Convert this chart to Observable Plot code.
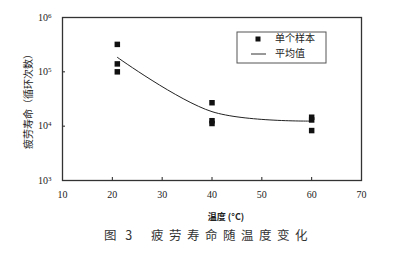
<!DOCTYPE html>
<html><head><meta charset="utf-8">
<script src="https://cdn.jsdelivr.net/npm/d3@7"></script>
<script src="https://cdn.jsdelivr.net/npm/@observablehq/plot@0.6"></script>
<style>
body{margin:0;background:#fff}
#chart{width:394px;height:254px}
</style>
</head><body><div id="chart"></div>
<script>
const sampleTemp = [21, 21, 21, 40, 40, 40, 60, 60, 60];
const sampleLife = [320000, 140000, 100000, 27000, 12600, 11200, 14600, 13000, 8300];
const meanTemp = [21, 40, 60];
const meanLife = [185000, 18500, 12400];
const xTicks = [10, 20, 30, 40, 50, 60, 70];
const yTicks = [1e3, 1e4, 1e5, 1e6];
const yTitle = "疲劳寿命（循环次数）";
const xTitle = "温度 (°C)";
const captionNo = "图 3";
const captionText = "疲劳寿命随温度变化";
const legendLabels = ["单个样本", "平均值"];

const samples = sampleTemp.map((t, i) => ({t, n: sampleLife[i]}));
const means = meanTemp.map((t, i) => ({t, n: meanLife[i]}));

const serif = "'Liberation Serif','DejaVu Serif',serif";
const cjk = "'Noto Sans CJK SC','Noto Sans CJK JP',sans-serif";

const plot = Plot.plot({
  width: 394, height: 254,
  marginLeft: 62, marginRight: 33, marginTop: 17, marginBottom: 74,
  style: {fontFamily: serif, fontSize: "10px", color: "#222", background: "#fff"},
  x: {domain: [10, 70], ticks: xTicks, tickSize: -3, tickPadding: 13, label: null},
  y: {type: "log", domain: [1e3, 1e6], ticks: yTicks, tickSize: -3, tickPadding: 14, label: null,
      tickFormat: d => String(Math.round(Math.log10(d)))},
  marks: [
    Plot.frame({stroke: "#333", strokeWidth: 1.3}),
    Plot.line(means, {x: "t", y: "n", curve: "catmull-rom", stroke: "#222", strokeWidth: 1}),
    Plot.dot(samples, {x: "t", y: "n", symbol: "square", r: 3.1, fill: "#111", stroke: "none"})
  ]
});
document.getElementById("chart").appendChild(plot);

const svg = d3.select(plot);
// superscript tick labels 10^n
svg.selectAll("g[aria-label='y-axis tick label'] text").each(function() {
  const t = d3.select(this);
  const e = t.text();
  t.text("");
  t.append("tspan").text("10");
  t.append("tspan").attr("dy", "-0.45em").attr("font-size", "7px").text(e);
});

const g = svg.append("g").attr("text-anchor", "start");
// axis titles
g.append("text").attr("transform", "translate(29,99) rotate(-90)")
  .attr("text-anchor", "middle").attr("dominant-baseline", "middle")
  .attr("font-family", cjk).attr("font-size", "10px").attr("fill", "#222").text(yTitle);
g.append("text").attr("x", 226).attr("y", 220).attr("text-anchor", "middle")
  .attr("font-family", cjk).attr("font-size", "9px").attr("font-weight", "bold").attr("fill", "#222").text(xTitle);

// caption
g.append("text").attr("x", 104).attr("y", 240).attr("font-family", cjk)
  .attr("font-size", "12.5px").attr("fill", "#333").attr("letter-spacing", "3px").text(captionNo);
g.append("text").attr("x", 151).attr("y", 240).attr("font-family", cjk)
  .attr("font-size", "12.5px").attr("fill", "#333").attr("letter-spacing", "5.5px").text(captionText);

// legend
g.append("rect").attr("x", 237).attr("y", 32).attr("width", 89).attr("height", 31)
  .attr("fill", "#fff").attr("stroke", "#555").attr("stroke-width", 1);
g.append("rect").attr("x", 255.5).attr("y", 36.5).attr("width", 5).attr("height", 5).attr("fill", "#111");
g.append("line").attr("x1", 251).attr("x2", 266).attr("y1", 54).attr("y2", 54).attr("stroke", "#333").attr("stroke-width", 1);
g.append("text").attr("x", 275).attr("y", 39).attr("dominant-baseline", "middle")
  .attr("font-family", cjk).attr("font-size", "10px").attr("fill", "#222").text(legendLabels[0]);
g.append("text").attr("x", 275).attr("y", 54).attr("dominant-baseline", "middle")
  .attr("font-family", cjk).attr("font-size", "10px").attr("fill", "#222").text(legendLabels[1]);
</script>
</body></html>
